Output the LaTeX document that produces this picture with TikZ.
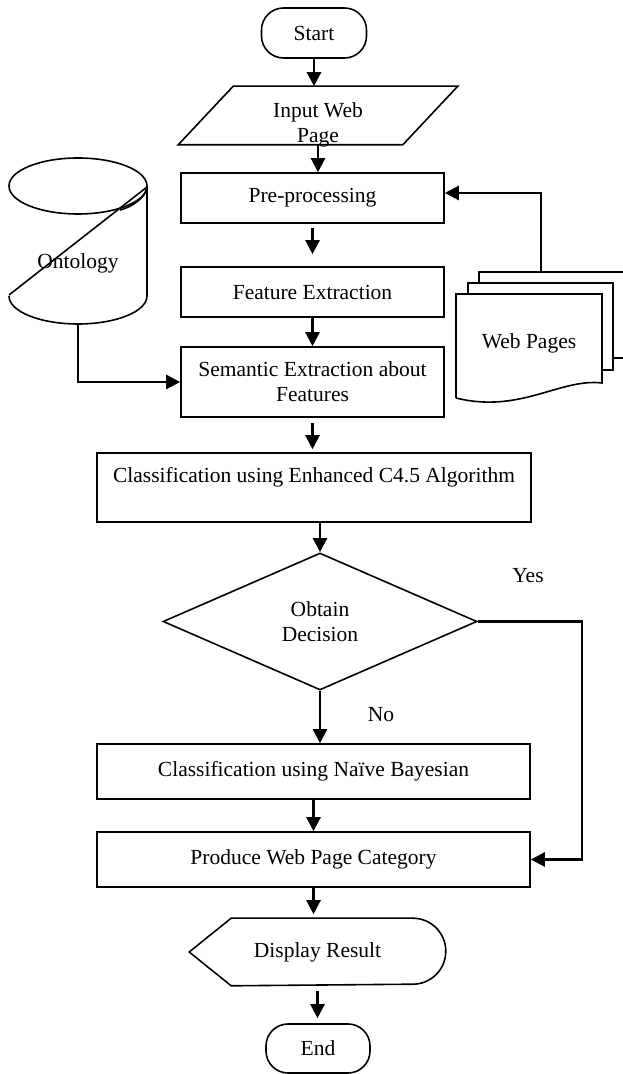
\documentclass[tikz,border=0pt]{standalone}
\usepackage{fontspec}
\setmainfont{Liberation Serif}
\usetikzlibrary{shapes.geometric,arrows.meta}

\begin{document}
\begin{tikzpicture}[x=1pt,y=1pt,line width=1.6pt,
	font=\fontsize{21.5}{25}\selectfont,
	box/.style={draw,rectangle,minimum width=263pt,minimum height=50pt,inner sep=0pt,align=center},
	widebox/.style={box,minimum width=433pt,minimum height=55pt},
	term/.style={draw,rectangle,rounded corners=22pt,minimum width=105pt,minimum height=50pt,inner sep=0pt},
	arr/.style={line width=2.4pt,-{Triangle[length=14pt,width=14pt]}}]
	\useasboundingbox (0,0) rectangle (622,1074);

	% main column
	\node[term] (start) at (314,1041) {Start};
	\node[minimum width=278pt,minimum height=57pt,inner sep=0pt,
		label={[align=center,yshift=-9pt]center:Input Web\\Page}] (input) at (318,958.5) {};
	\draw (input.south west) -- ([xshift=-55pt]input.south east) -- (input.north east)
		-- ([xshift=55pt]input.north west) -- cycle;
	\node[box] (pre) at (312.5,876) {Pre-processing};
	\node[box] (feat) at (312.5,782) {Feature Extraction};
	\node[box,minimum height=70pt] (sem) at (312.5,692) {Semantic Extraction about\\Features};
	\node[widebox,minimum width=434pt,minimum height=69pt] (c45) at (314,586.5) {Classification using Enhanced C4.5 Algorithm\\\mbox{}};
	\node[draw,diamond,minimum width=314pt,minimum height=137pt,inner sep=0pt,align=center] (dec) at (320,452.5) {Obtain\\Decision};
	\node[widebox] (naive) at (313.5,302.5) {Classification using Naïve Bayesian};
	\node[widebox] (prod) at (313.5,214.5) {Produce Web Page Category};
	\node[minimum width=255pt,minimum height=66pt,inner sep=0pt] (disp) at (317.5,122) {Display Result};
	\draw (disp.west) -- ([xshift=42pt]disp.north west) -- ([xshift=-33pt]disp.north east)
		arc[start angle=90,end angle=-90,radius=33pt] -- ([xshift=42pt]disp.south west) -- cycle;
	\node[term,minimum width=104pt,minimum height=49pt] (end) at (318,25.5) {End};

	% ontology store
	\draw (78,888) ellipse [x radius=69pt,y radius=28pt];
	\draw (147,888) -- (147,778) arc[start angle=0,end angle=-180,x radius=69pt,y radius=28pt];
	\draw (147,887) -- (9,779);
	\draw (147,886) .. controls (145,876) and (132,867) .. (120,864);
	\node (onto) at (78,811) {Ontology};
	\coordinate (ontobase) at (78,750);

	% web pages
	\draw (479,791) -- (479,802) -- (625,802);
	\draw (613,716) -- (625,716);
	\draw (468,780) -- (468,791) -- (613,791) -- (613,704) -- (602,704);
	\draw[fill=white] (456,676) -- (456,780) -- (602,780) -- (602,691)
		.. controls (560,696) and (520,660) .. (456,676);
	\node (webpages) at (529,731) {Web Pages};
	\coordinate (wptop) at (541,802);

	% connectors
	\draw[arr] (start.south) -- (start.south |- input.north);
	\draw[arr] (input.south) -- (input.south |- pre.north);
	\draw[arr,shorten <=4pt,shorten >=12pt] (pre.south) -- (feat.north);
	\draw[arr] (feat.south) -- (sem.north);
	\draw[arr,shorten <=5pt,shorten >=3pt] (sem.south) -- (sem.south |- c45.north);
	\draw[arr] (dec.north |- c45.south) -- (dec.north);
	\draw[arr] (dec.south) -- (dec.south |- naive.north);
	\draw[arr] (naive.south) -- (naive.south |- prod.north);
	\draw[arr,shorten >=4pt] (prod.south) -- (prod.south |- disp.north);
	\draw[arr,shorten <=5pt,shorten >=5pt] (disp.south) -- (disp.south |- end.north);
	\draw[arr] (ontobase) |- (sem.west);
	\draw[arr] (wptop) |- ([yshift=5pt]pre.east);
	\coordinate (yesturn) at (582,452.5);
	\draw[arr] (dec.east) -- (yesturn) |- (prod.east);

	\node (yes) at (528,498) {Yes};
	\node (no) at (381,359) {No};
\end{tikzpicture}
\end{document}
